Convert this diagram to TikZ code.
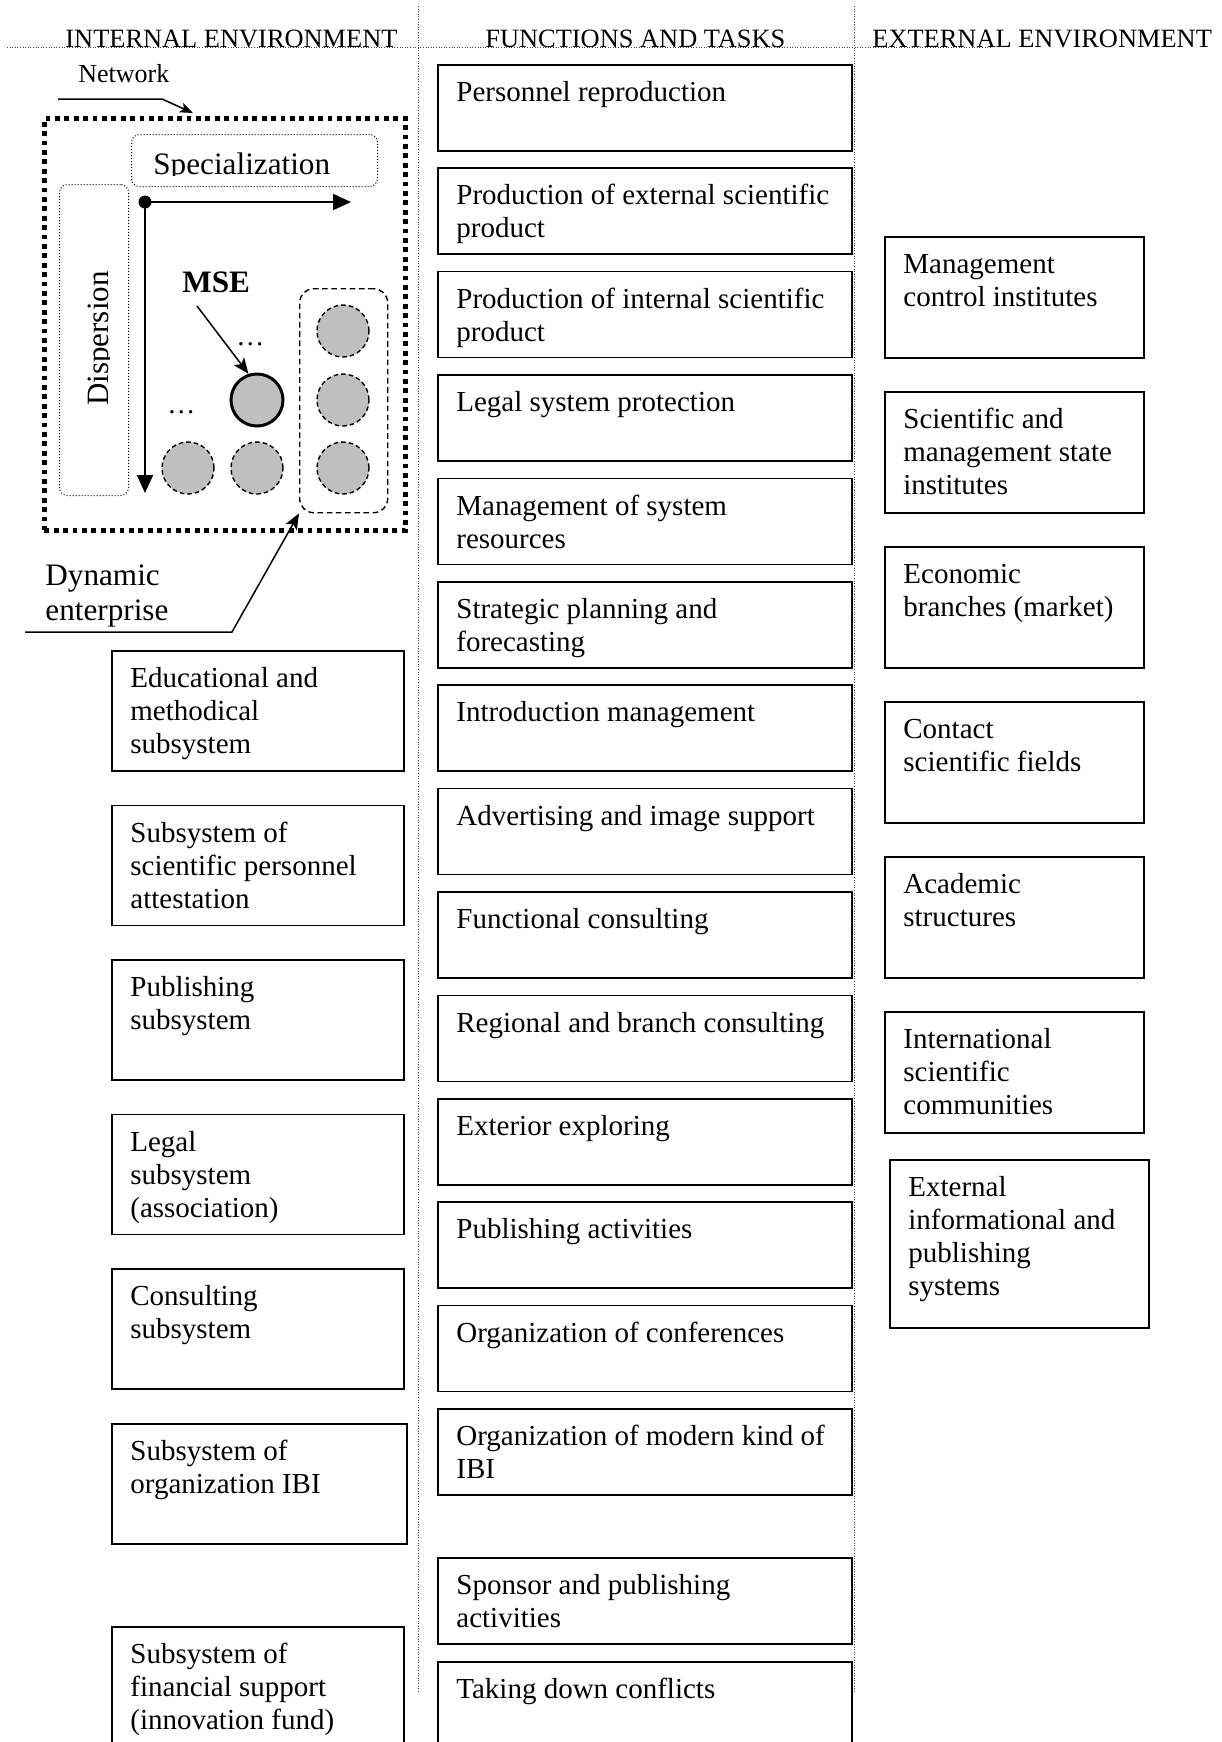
\documentclass[tikz,border=0pt]{standalone}
\usepackage{fontspec}
\setmainfont{Liberation Serif}
\usetikzlibrary{arrows.meta}

\tikzset{
  sep/.style={line width=0.5pt, dash pattern=on 0.5pt off 0.8pt, black!75},
  hdr/.style={font=\fontsize{13.2}{15}\selectfont, anchor=base west, inner sep=0},
  frame/.style={draw, line width=0.8pt, anchor=north west, inner sep=0},
  taskbox/.style={frame, minimum width=207pt, minimum height=43pt},
  subbox/.style={frame, minimum width=146pt, minimum height=60pt},
  subboxw/.style={frame, minimum width=147.5pt, minimum height=60pt},
  extbox/.style={frame, minimum width=129.5pt, minimum height=60.5pt},
  extboxl/.style={frame, minimum width=129.5pt, minimum height=84pt},
  boxtext/.style={font=\fontsize{14.5}{16.5}\selectfont, align=left, anchor=north west, inner sep=0},
  lbl/.style={font=\fontsize{15.6}{17.5}\selectfont, anchor=base west, inner sep=0},
  netframe/.style={draw, line width=2.4pt, dash pattern=on 2.4pt off 2.3pt, anchor=north west, inner sep=0},
  dotframe/.style={draw, line width=0.5pt, dash pattern=on 0.5pt off 1pt, rounded corners=4pt, anchor=north west, inner sep=0},
  dashframe/.style={draw, line width=0.7pt, dash pattern=on 2.8pt off 1.8pt, rounded corners=7pt, anchor=north west, inner sep=0},
  unit/.style={circle, draw, fill=black!25, inner sep=0, minimum size=26pt, line width=0.7pt, dash pattern=on 2.3pt off 1.5pt},
  mseunit/.style={circle, draw, fill=black!25, inner sep=0, minimum size=26pt, line width=1.5pt},
  axis/.style={line width=1pt, -{Triangle[length=9pt,width=8pt]}},
  ptr/.style={line width=0.75pt, -{Stealth[length=8pt,width=6.5pt,inset=2pt]}},
  smallptr/.style={line width=0.75pt, -{Stealth[length=6.5pt,width=5pt,inset=1.5pt]}},
  ell/.style={font=\fontsize{14}{16}\selectfont, anchor=base west, inner sep=0},
}

% box with its text set from the top-left corner
\newcommand\tbox[5]{%
  \node[#1] (#2) at (#3,#4) {};
  \node[boxtext] (#2t) at ([xshift=9.5pt,yshift=-6.5pt]#2.north west) {\rule{0pt}{12pt}#5};
}

\begin{document}
\begin{tikzpicture}[x=0.5pt,y=-0.5pt]
\useasboundingbox (0,0) rectangle (1222,1742);
\clip (0,0) rectangle (1222,1742);
\fill[white] (0,0) rectangle (1222,1742);

% column separators and headings
\draw[sep] (7,47) -- (990,47);
\draw[sep] (418,6) -- (418,1692);
\draw[sep] (854,6) -- (854,1692);
\node[hdr] (hint) at (65,47) {INTERNAL ENVIRONMENT};
\node[hdr] (hfun) at (485,47) {FUNCTIONS AND TASKS};
\node[hdr] (hext) at (872,47) {EXTERNAL ENVIRONMENT};

% ---------- network scheme ----------
\node[netframe, minimum width=180.5pt, minimum height=206pt] (network) at (42,116) {};
\node[font=\fontsize{13}{15}\selectfont, anchor=base west, inner sep=0] (netlbl) at (78,82) {Network};
\coordinate (netfrom) at (58,99);
\coordinate (netbend) at (162,99);
\coordinate (nettip) at (193,113);
\draw[smallptr] (netfrom) -- (netbend) -- (nettip);

% specialization axis
\node[dotframe, minimum width=123pt, minimum height=26pt] (spec) at (131,134) {};
\begin{scope}
  \clip (131,134) rectangle (377,175.5);
  \node[lbl] (spect) at (153,174) {Specialization};
\end{scope}

% dispersion axis
\node[dotframe, minimum width=34.5pt, minimum height=155.5pt] (disp) at (59,184) {};
\begin{scope}
  \clip (59,184) rectangle (109.5,495);
  \node[font=\fontsize{15.5}{17.5}\selectfont, rotate=90, anchor=base, inner sep=0] (dispt) at (108,338.5) {Dispersion};
\end{scope}

\node[circle, fill, inner sep=0, minimum size=6.5pt] (orig) at (145,202) {};
\coordinate (specend) at (351,202);
\coordinate (dispend) at (145,493);
\draw[axis] (orig.center) -- (specend);
\draw[axis] (orig.center) -- (dispend);

% enterprises
\node[mseunit] (msec) at (257,400) {};
\node[unit] (ua) at (188,468) {};
\node[unit] (ub) at (257,468) {};
\node[unit] (uc) at (343,331) {};
\node[unit] (ud) at (343,400) {};
\node[unit] (ue) at (343,468) {};
\node[dashframe, minimum width=44pt, minimum height=112pt] (dyn) at (299,288) {};

\node[ell] (dotsa) at (236,345) {…};
\node[ell] (dotsb) at (167,413) {…};

\node[font=\bfseries\fontsize{15.6}{18}\selectfont, anchor=base west, inner sep=0] (mse) at (182,292) {MSE};
\coordinate (msefrom) at (197,306);
\draw[ptr] (msefrom) -- (msec.108);

% dynamic enterprise label
\node[lbl] (dynl1) at (45,585) {Dynamic};
\node[lbl] (dynl2) at (45,620) {enterprise};
\coordinate (dynfrom) at (25,632);
\coordinate (dynbend) at (232,632);
\draw[ptr] (dynfrom) -- (dynbend) -- (dyn.south west);

% ---------- internal subsystems ----------
\tbox{subbox}{s1}{111}{650}{Educational and\\methodical\\subsystem}
\tbox{subbox}{s2}{111}{804.6}{Subsystem of\\scientific personnel\\attestation}
\tbox{subbox}{s3}{111}{959.2}{Publishing\\subsystem}
\tbox{subbox}{s4}{111}{1113.8}{Legal\\subsystem\\(association)}
\tbox{subbox}{s5}{111}{1268.4}{Consulting\\subsystem}
\tbox{subboxw}{s6}{111}{1423}{Subsystem of\\organization IBI}
\tbox{subbox}{s7}{111}{1626}{Subsystem of\\financial support\\(innovation fund)}

% ---------- functions and tasks ----------
\tbox{taskbox}{f1}{437}{64}{Personnel reproduction}
\tbox{taskbox}{f2}{437}{167.4}{Production of external scientific\\product}
\tbox{taskbox}{f3}{437}{270.8}{Production of internal scientific\\product}
\tbox{taskbox}{f4}{437}{374.2}{Legal system protection}
\tbox{taskbox}{f5}{437}{477.6}{Management of system\\resources}
\tbox{taskbox}{f6}{437}{581}{Strategic planning and\\forecasting}
\tbox{taskbox}{f7}{437}{684.4}{Introduction management}
\tbox{taskbox}{f8}{437}{787.8}{Advertising and image support}
\tbox{taskbox}{f9}{437}{891.2}{Functional consulting}
\tbox{taskbox}{f10}{437}{994.6}{Regional and branch consulting}
\tbox{taskbox}{f11}{437}{1098}{Exterior exploring}
\tbox{taskbox}{f12}{437}{1201.4}{Publishing activities}
\tbox{taskbox}{f13}{437}{1304.8}{Organization of conferences}
\tbox{taskbox}{f14}{437}{1408.2}{Organization of modern kind of\\IBI}
\tbox{taskbox}{f15}{437}{1557}{Sponsor and publishing\\activities}
\tbox{taskbox}{f16}{437}{1661}{Taking down conflicts}

% ---------- external environment ----------
\tbox{extbox}{e1}{884}{236}{Management\\control institutes}
\tbox{extbox}{e2}{884}{391}{Scientific and\\management state\\institutes}
\tbox{extbox}{e3}{884}{546}{Economic\\branches (market)}
\tbox{extbox}{e4}{884}{701}{Contact\\scientific fields}
\tbox{extbox}{e5}{884}{856}{Academic\\structures}
\tbox{extbox}{e6}{884}{1011}{International\\scientific\\communities}
\tbox{extboxl}{e7}{889}{1159}{External\\informational and\\publishing\\systems}
\end{tikzpicture}
\end{document}
